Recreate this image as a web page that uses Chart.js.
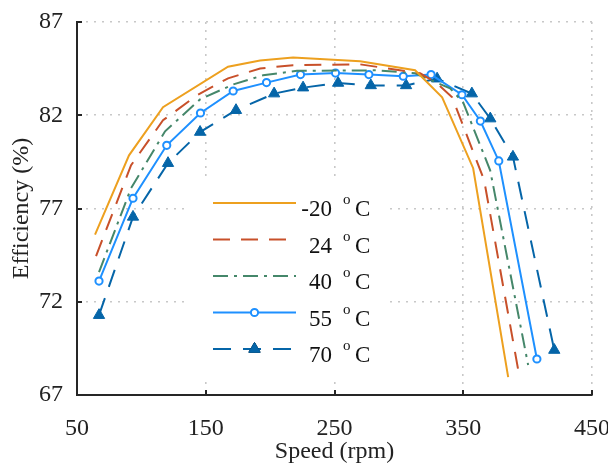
<!DOCTYPE html>
<html><head><meta charset="utf-8">
<script src="https://cdn.jsdelivr.net/npm/chart.js@4.4.1/dist/chart.umd.min.js"></script>
<style>html,body{margin:0;padding:0;background:#fff}</style>
</head><body>
<canvas id="c" width="608" height="464" style="display:block;width:608px;height:464px"></canvas>
<script>
// ---- data ----
const xTicks = [50, 150, 250, 350, 450];
const yTicks = [67, 72, 77, 82, 87];
const seriesLabels = ['-20', '24', '40', '55', '70'];
const xTitle = 'Speed (rpm)';
const yTitle = 'Efficiency (%)';

const speedM20 = [64.0, 90.4, 116.8, 167.3, 192.2, 217.8, 269.9, 312.6, 333.6, 357.7, 384.9];
const effM20   = [75.6, 79.85, 82.43, 84.6, 84.94, 85.1, 84.89, 84.41, 82.96, 79.16, 67.96];

const speed24 = [64.8, 92.0, 116.8, 143.2, 167.3, 192.2, 217.8, 269.9, 316.5, 329.7, 341.4, 366.2, 392.7];
const eff24   = [74.45, 79.32, 81.73, 83.07, 83.98, 84.51, 84.68, 84.73, 84.25, 83.71, 82.96, 78.52, 68.34];

const speed40 = [67.1, 92.0, 118.4, 145.6, 171.2, 194.5, 220.9, 283.1, 312.6, 339.8, 349.9, 370.9, 400.4];
const eff40   = [73.59, 78.09, 81.14, 82.85, 83.65, 84.14, 84.38, 84.41, 84.25, 83.44, 82.69, 79.05, 68.61];

const speed55 = [67.1, 93.5, 119.7, 145.9, 171.3, 197.2, 223.6, 250.8, 276.7, 303.4, 325.0, 349.0, 363.3, 377.6, 407.2];
const eff55   = [73.11, 77.55, 80.39, 82.12, 83.3, 83.75, 84.18, 84.26, 84.18, 84.09, 84.18, 83.1, 81.69, 79.55, 68.93];

const speed70 = [67.1, 93.5, 120.7, 145.6, 173.5, 203.1, 225.6, 252.8, 278.2, 305.6, 329.7, 356.7, 371.0, 388.6, 420.7];
const eff70   = [71.28, 76.55, 79.43, 81.1, 82.27, 83.16, 83.48, 83.73, 83.6, 83.6, 83.96, 83.16, 81.82, 79.77, 69.41];

const pts = (xs, ys) => xs.map((x, i) => ({x: x, y: ys[i]}));

const FONT = 'Liberation Serif';
const AXIS = '#262626';

const datasets = [
  {label: seriesLabels[0], data: pts(speedM20, effM20), borderColor: '#EDA01F', borderWidth: 2, pointRadius: 0, borderDash: []},
  {label: seriesLabels[1], data: pts(speed24, eff24), borderColor: '#C8502A', borderWidth: 2, pointRadius: 0, borderDash: [17, 11]},
  {label: seriesLabels[2], data: pts(speed40, eff40), borderColor: '#45876A', borderWidth: 2, pointRadius: 0, borderDash: [15, 6, 3, 6]},
  {label: seriesLabels[3], data: pts(speed55, eff55), borderColor: '#1E90FF', borderWidth: 2, borderDash: [],
   pointStyle: 'circle', pointRadius: 3.6, pointBorderWidth: 2, pointBackgroundColor: '#ffffff', pointBorderColor: '#1E90FF'},
  {label: seriesLabels[4], data: pts(speed70, eff70), borderColor: '#0565A8', borderWidth: 2, borderDash: [18, 12],
   pointStyle: 'triangle', pointRadius: 6.5, pointBorderWidth: 1, pointBackgroundColor: '#0565A8', pointBorderColor: '#0565A8'}
];

function drawMarker(ctx, ds, x, y) {
  if (!ds.pointStyle) return;
  ctx.save();
  ctx.setLineDash([]);
  if (ds.pointStyle === 'circle') {
    ctx.beginPath();
    ctx.arc(x, y, ds.pointRadius, 0, Math.PI * 2);
    ctx.fillStyle = ds.pointBackgroundColor;
    ctx.fill();
    ctx.lineWidth = ds.pointBorderWidth;
    ctx.strokeStyle = ds.pointBorderColor;
    ctx.stroke();
  } else {
    Chart.helpers.drawPoint(ctx, {pointStyle: 'triangle', radius: ds.pointRadius, borderWidth: ds.pointBorderWidth, rotation: 0}, x, y);
    ctx.fillStyle = ds.pointBackgroundColor;
    ctx.strokeStyle = ds.pointBorderColor;
    ctx.fill();
    ctx.stroke();
  }
  ctx.restore();
}

const frameAndLegend = {
  id: 'frameAndLegend',
  beforeDatasetsDraw(chart) {
    const ctx = chart.ctx;
    ctx.save();
    ctx.fillStyle = '#ffffff';
    ctx.fillRect(190, 177, 198, 200);
    ctx.restore();
  },
  afterDatasetsDraw(chart) {
    const ctx = chart.ctx;
    const ca = chart.chartArea;
    const xs = chart.scales.x, ys = chart.scales.y;
    // inward tick marks
    ctx.save();
    ctx.strokeStyle = AXIS;
    ctx.lineWidth = 2;
    ctx.setLineDash([]);
    xTicks.slice(1).forEach(v => {
      const p = Math.round(xs.getPixelForValue(v));
      ctx.beginPath(); ctx.moveTo(p, ca.bottom); ctx.lineTo(p, ca.bottom - 5); ctx.stroke();
    });
    yTicks.slice(1).forEach(v => {
      const p = Math.round(ys.getPixelForValue(v));
      ctx.beginPath(); ctx.moveTo(ca.left, p); ctx.lineTo(ca.left + 5, p); ctx.stroke();
    });
    ctx.restore();

    // legend
    const x0 = 213, x1 = 296, rowY0 = 203, step = 36.5;
    chart.data.datasets.forEach((ds, i) => {
      const y = rowY0 + i * step;
      ctx.save();
      ctx.strokeStyle = ds.borderColor;
      ctx.lineWidth = ds.borderWidth;
      ctx.setLineDash(ds.borderDash || []);
      ctx.beginPath(); ctx.moveTo(x0, y); ctx.lineTo(x1, y); ctx.stroke();
      ctx.restore();
      drawMarker(ctx, ds, (x0 + x1) / 2, y);
      ctx.save();
      ctx.fillStyle = '#111';
      ctx.textBaseline = 'alphabetic';
      ctx.font = '23px "' + FONT + '"';
      ctx.textAlign = 'right';
      ctx.fillText(ds.label, 332, y + 13);
      ctx.textAlign = 'left';
      ctx.font = '15px "' + FONT + '"';
      ctx.fillText('o', 343, y + 1);
      ctx.font = '23px "' + FONT + '"';
      ctx.fillText('C', 355, y + 13);
      ctx.restore();
    });
  }
};

new Chart(document.getElementById('c'), {
  type: 'line',
  data: {datasets: datasets},
  plugins: [frameAndLegend],
  options: {
    responsive: false,
    animation: false,
    devicePixelRatio: 1,
    layout: {padding: {top: 22, right: 16, left: 0, bottom: 0}},
    elements: {line: {tension: 0, fill: false, borderJoinStyle: 'miter'}},
    plugins: {legend: {display: false}, tooltip: {enabled: false}},
    scales: {
      x: {
        type: 'linear', min: 50, max: 450,
        afterBuildTicks: s => { s.ticks = xTicks.map(v => ({value: v})); },
        grid: {color: '#c8c8c8', lineWidth: 1.6, drawTicks: false},
        border: {display: true, color: AXIS, width: 2, dash: [2, 6]},
        ticks: {padding: 19, color: '#222', maxRotation: 0, autoSkip: false, font: {family: FONT, size: 24}},
        title: {display: true, text: xTitle, color: '#222', font: {family: FONT, size: 24, lineHeight: 1}, padding: {top: 0, bottom: 0}},
        afterFit: s => { s.height = 69; s.paddingRight = 14; s.paddingLeft = 0; }
      },
      y: {
        type: 'linear', min: 67, max: 87,
        afterBuildTicks: s => { s.ticks = yTicks.map(v => ({value: v})); },
        grid: {color: '#c8c8c8', lineWidth: 1.6, drawTicks: false},
        border: {display: true, color: AXIS, width: 2, dash: [2, 6]},
        ticks: {padding: 14, color: '#222', autoSkip: false, font: {family: FONT, size: 24}},
        title: {display: true, text: yTitle, color: '#222', font: {family: FONT, size: 24, lineHeight: 1}, padding: {top: 10, bottom: 0}},
        afterFit: s => { s.width = 77; s.paddingTop = 0; s.paddingBottom = 0; }
      }
    }
  }
});
</script>
</body></html>
